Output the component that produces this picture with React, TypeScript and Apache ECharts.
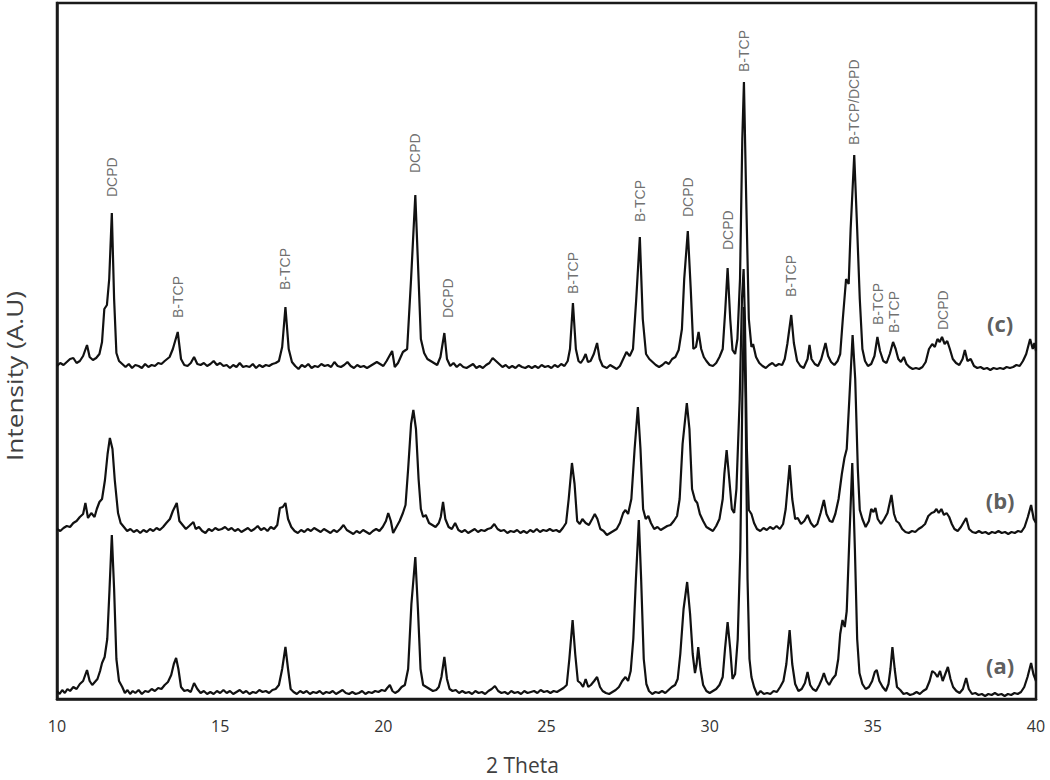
import React, { useEffect, useRef } from "react";
import * as echarts from "echarts";

// ---- Data (2θ in degrees, stacked intensity in arbitrary units) ----
const xTicks = [10, 15, 20, 25, 30, 35, 40];

const traceC: [number, number][] = [
  [10.0, 333], [10.1, 336], [10.2, 334], [10.3, 337], [10.4, 340], [10.5, 341], [10.6, 336], [10.7, 338],
  [10.8, 343], [10.92, 354], [11.0, 342], [11.1, 339], [11.2, 341], [11.3, 345], [11.38, 357], [11.45, 390],
  [11.53, 394], [11.6, 420], [11.68, 486], [11.75, 400], [11.82, 346], [11.9, 338], [12.0, 335], [12.1, 332],
  [12.2, 335], [12.3, 331], [12.4, 334], [12.5, 333], [12.6, 331], [12.7, 335], [12.8, 332], [12.9, 334],
  [13.0, 333], [13.1, 336], [13.2, 335], [13.3, 338], [13.45, 342], [13.55, 350], [13.7, 367], [13.8, 340],
  [13.9, 334], [14.0, 333], [14.1, 336], [14.2, 342], [14.3, 335], [14.4, 334], [14.5, 336], [14.6, 333],
  [14.7, 335], [14.8, 338], [14.9, 334], [15.0, 336], [15.1, 333], [15.2, 334], [15.3, 331], [15.4, 334],
  [15.5, 332], [15.6, 336], [15.7, 332], [15.8, 333], [15.9, 332], [16.0, 335], [16.1, 331], [16.2, 334],
  [16.3, 332], [16.4, 334], [16.5, 333], [16.6, 335], [16.7, 336], [16.8, 338], [16.9, 352], [17.0, 392],
  [17.1, 350], [17.2, 337], [17.3, 333], [17.4, 330], [17.5, 334], [17.6, 332], [17.7, 335], [17.8, 331],
  [17.9, 333], [18.0, 332], [18.1, 335], [18.2, 333], [18.3, 334], [18.4, 332], [18.5, 337], [18.6, 333],
  [18.7, 332], [18.8, 334], [18.9, 337], [19.0, 333], [19.1, 331], [19.2, 334], [19.3, 332], [19.4, 333],
  [19.5, 331], [19.6, 333], [19.7, 335], [19.8, 337], [19.9, 335], [20.0, 333], [20.1, 338], [20.27, 348],
  [20.35, 332], [20.45, 336], [20.6, 347], [20.73, 350], [20.85, 420], [20.98, 504], [21.08, 420], [21.15, 360],
  [21.25, 346], [21.35, 340], [21.45, 338], [21.55, 336], [21.65, 334], [21.75, 342], [21.87, 366], [21.95, 340],
  [22.05, 333], [22.15, 336], [22.25, 332], [22.35, 335], [22.45, 332], [22.55, 331], [22.65, 333], [22.75, 335],
  [22.85, 331], [22.95, 333], [23.05, 331], [23.15, 334], [23.25, 336], [23.35, 341], [23.45, 338], [23.55, 335],
  [23.65, 332], [23.75, 334], [23.85, 331], [23.95, 333], [24.05, 331], [24.15, 334], [24.25, 332], [24.35, 331],
  [24.45, 333], [24.55, 331], [24.65, 333], [24.75, 331], [24.85, 334], [24.95, 332], [25.05, 333], [25.15, 331],
  [25.25, 334], [25.35, 332], [25.45, 335], [25.55, 333], [25.65, 338], [25.72, 350], [25.81, 396], [25.9, 350],
  [25.98, 338], [26.05, 336], [26.13, 340], [26.2, 345], [26.27, 337], [26.35, 338], [26.45, 345], [26.55, 356],
  [26.63, 340], [26.72, 333], [26.85, 331], [26.95, 334], [27.05, 332], [27.15, 330], [27.25, 333], [27.35, 340],
  [27.45, 347], [27.55, 343], [27.65, 350], [27.75, 400], [27.86, 462], [27.95, 380], [28.05, 345], [28.15, 340],
  [28.25, 337], [28.35, 334], [28.45, 332], [28.55, 334], [28.65, 337], [28.75, 335], [28.85, 340], [28.95, 342],
  [29.05, 349], [29.15, 370], [29.22, 420], [29.33, 468], [29.42, 410], [29.5, 350], [29.58, 352], [29.66, 367],
  [29.74, 350], [29.82, 342], [29.9, 338], [30.0, 334], [30.1, 333], [30.2, 336], [30.3, 342], [30.4, 350],
  [30.48, 390], [30.55, 431], [30.63, 380], [30.7, 349], [30.78, 345], [30.85, 360], [30.93, 420], [31.0, 560],
  [31.05, 617], [31.12, 500], [31.2, 380], [31.28, 352], [31.33, 355], [31.42, 342], [31.52, 336], [31.62, 333],
  [31.72, 331], [31.82, 334], [31.92, 336], [32.02, 333], [32.12, 335], [32.22, 334], [32.3, 340], [32.38, 355],
  [32.5, 384], [32.58, 356], [32.68, 338], [32.78, 333], [32.88, 331], [33.0, 340], [33.06, 354], [33.12, 340],
  [33.22, 335], [33.32, 333], [33.42, 340], [33.55, 356], [33.63, 343], [33.72, 337], [33.82, 334], [33.92, 338],
  [34.0, 345], [34.08, 380], [34.18, 420], [34.26, 415], [34.32, 470], [34.43, 544], [34.52, 470], [34.6, 400],
  [34.68, 350], [34.76, 338], [34.85, 333], [34.95, 335], [35.05, 343], [35.14, 362], [35.22, 348], [35.32, 338],
  [35.42, 336], [35.52, 345], [35.62, 357], [35.7, 350], [35.78, 340], [35.86, 337], [35.95, 342], [36.03, 335],
  [36.12, 332], [36.22, 330], [36.32, 331], [36.42, 330], [36.52, 332], [36.62, 337], [36.72, 350], [36.82, 355],
  [36.9, 352], [36.98, 360], [37.05, 357], [37.12, 362], [37.2, 355], [37.28, 358], [37.36, 350], [37.45, 340],
  [37.55, 336], [37.65, 334], [37.75, 340], [37.82, 349], [37.9, 338], [38.0, 340], [38.1, 333], [38.2, 331],
  [38.3, 332], [38.4, 330], [38.5, 331], [38.6, 329], [38.7, 331], [38.8, 330], [38.9, 331], [39.0, 330],
  [39.1, 332], [39.2, 331], [39.3, 332], [39.4, 334], [39.5, 333], [39.6, 338], [39.7, 345], [39.82, 360],
  [39.9, 350], [39.95, 356], [40.0, 348],
];

const traceB: [number, number][] = [
  [10.0, 170], [10.1, 168], [10.2, 171], [10.3, 173], [10.4, 172], [10.5, 176], [10.6, 178], [10.7, 182],
  [10.8, 185], [10.87, 196], [10.95, 181], [11.05, 186], [11.15, 182], [11.22, 190], [11.3, 197], [11.38, 200],
  [11.47, 219], [11.55, 245], [11.62, 261], [11.7, 250], [11.77, 219], [11.87, 186], [11.95, 176], [12.05, 172],
  [12.15, 168], [12.25, 170], [12.35, 167], [12.45, 169], [12.55, 166], [12.65, 169], [12.75, 167], [12.85, 170],
  [12.95, 168], [13.05, 171], [13.15, 169], [13.25, 172], [13.35, 176], [13.46, 180], [13.55, 188], [13.67, 196],
  [13.75, 178], [13.85, 174], [13.95, 170], [14.05, 173], [14.18, 177], [14.25, 170], [14.35, 172], [14.45, 168],
  [14.55, 166], [14.65, 170], [14.75, 168], [14.85, 171], [14.95, 169], [15.05, 170], [15.15, 172], [15.25, 169],
  [15.35, 171], [15.45, 168], [15.55, 170], [15.65, 167], [15.75, 169], [15.85, 171], [15.95, 168], [16.05, 170],
  [16.15, 173], [16.25, 169], [16.35, 171], [16.45, 168], [16.55, 172], [16.65, 170], [16.75, 174], [16.83, 191],
  [16.92, 192], [17.0, 196], [17.08, 180], [17.18, 172], [17.28, 168], [17.38, 166], [17.48, 169], [17.58, 167],
  [17.68, 170], [17.78, 168], [17.88, 171], [17.98, 169], [18.08, 167], [18.18, 170], [18.28, 168], [18.38, 166],
  [18.48, 169], [18.58, 167], [18.68, 170], [18.78, 174], [18.88, 169], [18.98, 167], [19.08, 165], [19.18, 168],
  [19.28, 166], [19.38, 169], [19.48, 167], [19.58, 165], [19.68, 168], [19.78, 170], [19.88, 168], [19.98, 172],
  [20.08, 178], [20.15, 186], [20.23, 178], [20.3, 166], [20.4, 172], [20.5, 178], [20.6, 186], [20.68, 194],
  [20.76, 230], [20.85, 275], [20.92, 289], [21.0, 270], [21.08, 220], [21.15, 190], [21.22, 182], [21.3, 184],
  [21.4, 176], [21.5, 174], [21.6, 172], [21.7, 176], [21.76, 182], [21.83, 197], [21.9, 180], [22.0, 172],
  [22.1, 170], [22.2, 176], [22.3, 169], [22.4, 167], [22.5, 169], [22.6, 166], [22.7, 168], [22.8, 170],
  [22.9, 167], [23.0, 169], [23.1, 168], [23.2, 170], [23.3, 171], [23.4, 175], [23.5, 170], [23.6, 168],
  [23.7, 169], [23.8, 166], [23.9, 168], [24.0, 167], [24.1, 169], [24.2, 166], [24.3, 168], [24.4, 166],
  [24.5, 169], [24.6, 167], [24.7, 170], [24.8, 167], [24.9, 169], [25.0, 168], [25.1, 170], [25.2, 168],
  [25.3, 169], [25.4, 167], [25.5, 171], [25.6, 176], [25.68, 200], [25.78, 236], [25.86, 215], [25.94, 178],
  [26.02, 175], [26.1, 180], [26.2, 176], [26.3, 174], [26.4, 180], [26.48, 185], [26.56, 180], [26.65, 170],
  [26.75, 168], [26.85, 164], [26.95, 166], [27.05, 168], [27.15, 170], [27.25, 176], [27.35, 186], [27.42, 189],
  [27.5, 185], [27.6, 200], [27.7, 250], [27.8, 292], [27.88, 250], [27.96, 190], [28.04, 180], [28.12, 183],
  [28.2, 176], [28.3, 170], [28.4, 172], [28.5, 169], [28.6, 171], [28.7, 173], [28.8, 174], [28.9, 178],
  [29.0, 183], [29.08, 200], [29.17, 255], [29.3, 296], [29.38, 270], [29.46, 210], [29.55, 199], [29.62, 196],
  [29.7, 185], [29.8, 178], [29.9, 172], [30.0, 170], [30.1, 168], [30.2, 173], [30.3, 180], [30.4, 200],
  [30.45, 225], [30.52, 249], [30.6, 220], [30.68, 190], [30.75, 186], [30.82, 210], [30.92, 300], [30.99, 400],
  [31.04, 430], [31.08, 380], [31.14, 250], [31.2, 189], [31.28, 185], [31.36, 176], [31.45, 170], [31.55, 168],
  [31.65, 171], [31.75, 169], [31.85, 172], [31.95, 170], [32.05, 173], [32.15, 170], [32.25, 175], [32.33, 190],
  [32.45, 234], [32.53, 200], [32.62, 180], [32.7, 181], [32.8, 175], [32.9, 178], [33.0, 184], [33.1, 176],
  [33.2, 172], [33.3, 175], [33.4, 186], [33.5, 199], [33.58, 185], [33.68, 178], [33.76, 177], [33.85, 185],
  [33.95, 200], [34.05, 225], [34.13, 241], [34.2, 250], [34.28, 300], [34.38, 364], [34.46, 320], [34.54, 230],
  [34.6, 189], [34.68, 180], [34.78, 172], [34.88, 178], [34.95, 190], [35.02, 187], [35.08, 191], [35.15, 180],
  [35.25, 175], [35.35, 180], [35.45, 186], [35.57, 204], [35.65, 185], [35.72, 178], [35.8, 176], [35.9, 170],
  [36.0, 167], [36.1, 166], [36.2, 168], [36.3, 167], [36.4, 170], [36.5, 172], [36.6, 175], [36.7, 183],
  [36.8, 186], [36.88, 187], [36.95, 190], [37.02, 186], [37.1, 190], [37.18, 184], [37.26, 186], [37.34, 182],
  [37.42, 175], [37.5, 170], [37.6, 168], [37.7, 172], [37.86, 181], [37.95, 170], [38.05, 167], [38.15, 166],
  [38.25, 168], [38.35, 166], [38.45, 167], [38.55, 165], [38.65, 167], [38.75, 166], [38.85, 168], [38.95, 166],
  [39.05, 167], [39.15, 165], [39.25, 167], [39.35, 166], [39.45, 168], [39.55, 167], [39.65, 172], [39.75, 182],
  [39.85, 194], [39.93, 180], [40.0, 176],
];

const traceA: [number, number][] = [
  [10.0, 8], [10.08, 5], [10.16, 9], [10.24, 6], [10.32, 10], [10.4, 8], [10.5, 12], [10.6, 10],
  [10.7, 15], [10.8, 18], [10.92, 29], [11.0, 18], [11.08, 14], [11.16, 17], [11.24, 20], [11.32, 28],
  [11.38, 36], [11.46, 42], [11.54, 60], [11.61, 110], [11.68, 164], [11.75, 110], [11.82, 40], [11.9, 18],
  [12.0, 12], [12.08, 6], [12.16, 9], [12.24, 5], [12.32, 8], [12.4, 6], [12.5, 9], [12.6, 5],
  [12.7, 8], [12.8, 7], [12.9, 10], [13.0, 8], [13.1, 11], [13.2, 10], [13.3, 14], [13.4, 17],
  [13.5, 24], [13.58, 35], [13.65, 41], [13.72, 30], [13.8, 12], [13.9, 8], [14.0, 9], [14.1, 7],
  [14.2, 16], [14.3, 10], [14.4, 6], [14.5, 8], [14.6, 5], [14.7, 7], [14.8, 5], [14.9, 8],
  [15.0, 6], [15.1, 9], [15.2, 6], [15.3, 8], [15.4, 5], [15.5, 7], [15.6, 9], [15.7, 6],
  [15.8, 8], [15.9, 5], [16.0, 7], [16.1, 6], [16.2, 9], [16.3, 7], [16.4, 8], [16.5, 6],
  [16.6, 9], [16.7, 10], [16.8, 14], [16.9, 30], [17.0, 52], [17.08, 30], [17.16, 10], [17.25, 7],
  [17.35, 5], [17.45, 8], [17.55, 6], [17.65, 8], [17.75, 5], [17.85, 7], [17.95, 6], [18.05, 8],
  [18.15, 5], [18.25, 7], [18.35, 6], [18.45, 8], [18.55, 5], [18.65, 7], [18.75, 9], [18.85, 6],
  [18.95, 5], [19.05, 7], [19.15, 5], [19.25, 6], [19.35, 8], [19.45, 5], [19.55, 7], [19.65, 6],
  [19.75, 8], [19.85, 7], [19.95, 9], [20.05, 8], [20.12, 11], [20.2, 14], [20.28, 8], [20.36, 6],
  [20.46, 8], [20.56, 12], [20.66, 14], [20.76, 30], [20.86, 95], [20.98, 142], [21.06, 90], [21.14, 30],
  [21.22, 14], [21.32, 12], [21.42, 10], [21.52, 8], [21.62, 9], [21.7, 12], [21.78, 22], [21.87, 42],
  [21.95, 20], [22.03, 10], [22.12, 8], [22.22, 9], [22.32, 6], [22.42, 8], [22.52, 6], [22.62, 7],
  [22.72, 5], [22.82, 8], [22.92, 6], [23.02, 7], [23.12, 5], [23.22, 8], [23.32, 10], [23.42, 13],
  [23.52, 8], [23.62, 6], [23.72, 7], [23.82, 5], [23.92, 8], [24.02, 6], [24.12, 7], [24.22, 5],
  [24.32, 8], [24.42, 6], [24.52, 7], [24.62, 8], [24.72, 6], [24.82, 9], [24.92, 7], [25.02, 8],
  [25.12, 6], [25.22, 8], [25.32, 7], [25.42, 9], [25.52, 11], [25.62, 14], [25.7, 40], [25.8, 79],
  [25.88, 45], [25.96, 18], [26.04, 16], [26.12, 12], [26.2, 20], [26.28, 12], [26.36, 14], [26.46, 18],
  [26.55, 22], [26.64, 12], [26.72, 8], [26.82, 6], [26.92, 5], [27.02, 7], [27.12, 9], [27.22, 12],
  [27.32, 18], [27.42, 22], [27.5, 18], [27.58, 28], [27.66, 60], [27.74, 120], [27.83, 179], [27.9, 120],
  [27.98, 40], [28.06, 15], [28.14, 8], [28.24, 5], [28.34, 7], [28.44, 6], [28.54, 8], [28.64, 6],
  [28.74, 9], [28.84, 12], [28.94, 14], [29.02, 20], [29.1, 45], [29.2, 90], [29.31, 117], [29.4, 85],
  [29.48, 45], [29.55, 26], [29.6, 35], [29.65, 52], [29.72, 30], [29.8, 14], [29.9, 8], [30.0, 6],
  [30.1, 8], [30.2, 10], [30.3, 14], [30.4, 22], [30.47, 50], [30.55, 77], [30.63, 50], [30.7, 20],
  [30.78, 25], [30.86, 60], [30.94, 150], [31.0, 300], [31.05, 392], [31.1, 300], [31.16, 120], [31.22, 40],
  [31.28, 22], [31.36, 12], [31.46, 4], [31.56, 8], [31.66, 5], [31.76, 6], [31.86, 5], [31.96, 8],
  [32.06, 7], [32.16, 12], [32.26, 18], [32.35, 35], [32.45, 69], [32.53, 35], [32.62, 15], [32.72, 8],
  [32.82, 10], [32.92, 16], [33.0, 27], [33.08, 14], [33.16, 10], [33.26, 8], [33.36, 14], [33.44, 20],
  [33.5, 26], [33.58, 18], [33.66, 14], [33.76, 20], [33.86, 24], [33.94, 40], [34.0, 65], [34.07, 79],
  [34.14, 72], [34.2, 88], [34.28, 160], [34.37, 236], [34.45, 150], [34.52, 60], [34.59, 26], [34.68, 15],
  [34.78, 10], [34.88, 12], [34.98, 18], [35.06, 27], [35.12, 29], [35.2, 18], [35.3, 12], [35.4, 8],
  [35.48, 15], [35.54, 30], [35.6, 52], [35.67, 30], [35.74, 12], [35.84, 9], [35.94, 5], [36.04, 6],
  [36.14, 4], [36.24, 5], [36.34, 7], [36.44, 5], [36.54, 8], [36.64, 10], [36.74, 18], [36.82, 28],
  [36.9, 26], [36.98, 22], [37.06, 28], [37.14, 18], [37.22, 25], [37.3, 32], [37.38, 20], [37.46, 12],
  [37.56, 8], [37.66, 6], [37.76, 10], [37.86, 21], [37.94, 10], [38.04, 5], [38.14, 6], [38.24, 4],
  [38.34, 5], [38.44, 3], [38.54, 5], [38.64, 4], [38.74, 6], [38.84, 4], [38.94, 5], [39.04, 3],
  [39.14, 5], [39.24, 4], [39.34, 6], [39.44, 5], [39.54, 7], [39.64, 12], [39.74, 22], [39.85, 36],
  [39.92, 25], [40.0, 18],
];

// Phase annotations (2θ, anchor intensity at the label's lower end, text)
const peakLabelX = [11.68, 13.7, 17.0, 20.98, 21.98, 25.82, 27.86, 29.35, 30.55, 31.05, 32.5, 34.43, 35.15, 35.65, 37.15];
const peakLabelY = [502, 381, 409, 526, 381, 405, 477, 482, 449, 627, 402, 554, 374, 366, 369];
const peakLabelText = ["DCPD", "B-TCP", "B-TCP", "DCPD", "DCPD", "B-TCP", "B-TCP", "DCPD", "DCPD", "B-TCP", "B-TCP", "B-TCP/DCPD", "B-TCP", "B-TCP", "DCPD"];

// Sample tags
const sampleTagX = [38.9, 38.9, 38.9];
const sampleTagY = [376, 199, 34];
const sampleTagText = ["(c)", "(b)", "(a)"];

const xTitle = "2 Theta";
const yTitle = "Intensity (A.U)";

export default function App() {
  const ref = useRef<HTMLDivElement>(null);

  useEffect(() => {
    if (!ref.current) return;
    const chart = echarts.init(ref.current, null, { renderer: "svg" });
    const lineStyle = { color: "#111", width: 2.2 };
    const mkLine = (name: string, data: [number, number][]) => ({
      name,
      type: "line",
      data,
      showSymbol: false,
      symbol: "none",
      lineStyle,
      silent: true,
      z: 3,
    });
    chart.setOption({
      animation: false,
      backgroundColor: "#fff",
      grid: {
        left: 57,
        right: 14,
        top: 3,
        bottom: 81,
        show: true,
        borderColor: "#1a1a1a",
        borderWidth: 2.5,
        containLabel: false,
      },
      graphic: [
        {
          type: "text",
          x: 15,
          y: 376,
          rotation: Math.PI / 2,
          scaleX: 1.25,
          style: {
            text: yTitle,
            fontFamily: "Open Sans",
            fontSize: 21,
            fill: "#404040",
            align: "center",
            verticalAlign: "middle",
          },
        },
      ],
      xAxis: {
        type: "value",
        min: xTicks[0],
        max: xTicks[xTicks.length - 1],
        interval: 5,
        name: xTitle,
        nameLocation: "middle",
        nameGap: 55,
        nameTextStyle: { fontFamily: "Open Sans", fontSize: 21, color: "#404040", padding: [0, 48, 0, 0] },
        axisLine: { show: true, lineStyle: { color: "#1a1a1a", width: 2.5 } },
        axisTick: { show: false },
        splitLine: { show: false },
        axisLabel: { fontFamily: "Open Sans", fontSize: 16, color: "#333", margin: 19 },
      },
      yAxis: {
        type: "value",
        min: 0,
        max: 696,
        axisLine: { show: true, lineStyle: { color: "#1a1a1a", width: 2.5 } },
        axisTick: { show: false },
        axisLabel: { show: false },
        splitLine: { show: false },
      },
      series: [
        mkLine("(a)", traceA),
        mkLine("(b)", traceB),
        mkLine("(c)", traceC),
        {
          type: "scatter",
          symbolSize: 0,
          silent: true,
          z: 4,
          data: peakLabelX.map((x, i) => ({ value: [x, peakLabelY[i]], name: peakLabelText[i] })),
          label: {
            show: true,
            formatter: "{b}",
            position: [0, 0],
            rotate: 90,
            align: "left",
            verticalAlign: "middle",
            fontFamily: "Liberation Sans",
            fontSize: 14,
            color: "#4a4a4a",
          },
        },
        {
          type: "scatter",
          symbolSize: 0,
          silent: true,
          z: 4,
          data: sampleTagX.map((x, i) => ({ value: [x, sampleTagY[i]], name: sampleTagText[i] })),
          label: {
            show: true,
            formatter: "{b}",
            position: [0, 0],
            align: "center",
            verticalAlign: "middle",
            fontFamily: "Open Sans",
            fontWeight: "bold",
            fontSize: 22,
            color: "#333",
          },
        },
      ],
    });
    return () => chart.dispose();
  }, []);

  return (
    <div
      ref={ref}
      style={{ position: "fixed", left: 0, top: 0, width: 1050, height: 780, background: "#fff" }}
    />
  );
}
